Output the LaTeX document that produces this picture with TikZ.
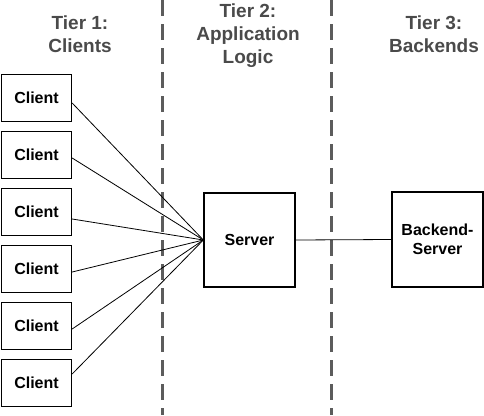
\documentclass[tikz,border=0pt]{standalone}
\usepackage{fontspec}
\setmainfont{Liberation Sans}
\usetikzlibrary{calc}

\definecolor{tiergray}{HTML}{4A4A4A}
\tikzset{
 box/.style={draw, line width=1.3pt, minimum width=70pt, minimum height=47pt, inner sep=0pt, font=\fontsize{16}{19}\selectfont\bfseries, align=center},
 tierlabel/.style={text=tiergray, font=\fontsize{19}{23}\selectfont\bfseries, align=center},
 tierline/.style={draw=tiergray!90, line width=3pt, dash pattern=on 16pt off 8pt},
}

\begin{document}
\begin{tikzpicture}[x=1pt,y=-1pt]
\useasboundingbox (0,0) rectangle (484,415);
\draw[tierline] (162,0)--(162,415);
\draw[tierline] (331,0)--(331,415);
\node[tierlabel] (t1) at (80,34) {Tier 1:\\Clients};
\node[tierlabel] (t2) at (248,36) {Tier 2:\\Application\\Logic};
\node[tierlabel] (t3) at (434,34) {Tier 3:\\Backends};
\node[box, minimum width=91pt, minimum height=94pt] (server) at (249.5,240) {Server};
\node[box, minimum width=91pt, minimum height=95pt] (backend) at (437.5,239.5) {Backend-\\Server};
\foreach \i/\dy in {1/5,2/3,3/7,4/3,5/3,6/-9} {
 \node[box] (c\i) at (36.5,{98+57*(\i-1)}) {Client};
 \draw[line width=.8pt] ($(c\i.east)+(0,\dy)$) -- (server.west);
}
\draw[line width=.8pt] (server.east) -- (backend.west);
\end{tikzpicture}
\end{document}
